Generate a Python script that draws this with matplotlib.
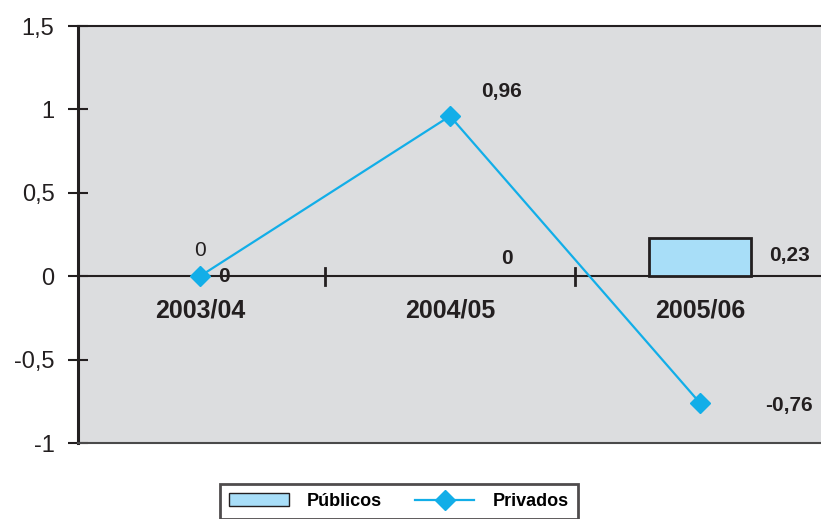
import matplotlib.pyplot as plt
from matplotlib.lines import Line2D
from matplotlib.patches import Patch

plt.rcParams['font.family'] = ['Liberation Sans', 'DejaVu Sans']

# dados
categorias = ['2003/04', '2004/05', '2005/06']
publicos = [0, 0, 0.23]
privados = [0, 0.96, -0.76]
rotulos_publicos = ['0', '0', '0,23']
rotulos_privados = ['0', '0,96', '-0,76']
yticks = [-1, -0.5, 0, 0.5, 1, 1.5]
yticklabels = ['-1', '-0,5', '0', '0,5', '1', '1,5']

# deslocamentos dos rotulos (pixels)
desl_publicos = [(24, 0), (57, 18), (89, -18)]
desl_privados = [(0, 26), (51, 25), (89, -3)]
peso_privados = ['normal', 'bold', 'bold']

cor_linha = '#12aee8'
cor_barra = '#a8def8'
cor_fundo = '#dcdddf'

fig = plt.figure(figsize=(8.21, 5.19), dpi=100)
ax = fig.add_axes([78 / 821, 76 / 519, 743 / 821, 417 / 519])
ax.set_facecolor(cor_fundo)

x = list(range(len(categorias)))
# barras com valor zero nao tem contorno visivel
larg_borda = [2 if v != 0 else 0 for v in publicos]
ax.bar(x, publicos, width=0.41, color=cor_barra, edgecolor='#231f20',
       linewidth=larg_borda, zorder=3)
ax.plot(x, privados, color=cor_linha, linewidth=1.6, marker='D', markersize=10,
        zorder=4)

ax.axhline(0, color='#231f20', linewidth=1.5, zorder=2)
for i in range(len(categorias) - 1):
    ax.plot([i + 0.5, i + 0.5], [-0.05, 0.05], color='#231f20', linewidth=2, zorder=2)

for i, cat in enumerate(categorias):
    ax.text(i, -0.205, cat, ha='center', va='center', fontsize=18, fontweight='bold',
            color='#231f20')

for i, (v, r) in enumerate(zip(publicos, rotulos_publicos)):
    ax.annotate(r, (i, v), xytext=desl_publicos[i], textcoords='offset pixels',
                ha='center', va='center', fontsize=15, fontweight='bold', color='#231f20',
                zorder=5)

for i, (v, r) in enumerate(zip(privados, rotulos_privados)):
    ax.annotate(r, (i, v), xytext=desl_privados[i], textcoords='offset pixels',
                ha='center', va='center', fontsize=15, fontweight=peso_privados[i],
                color='#231f20', zorder=5)

ax.set_xlim(-0.488, 2.484)
ax.set_ylim(-1, 1.5)
ax.set_xticks([])
ax.set_yticks(yticks)
ax.set_yticklabels(yticklabels, fontsize=17, color='#231f20')
ax.tick_params(axis='y', direction='inout', length=14, width=1.5, color='#231f20', pad=10)

ax.spines['right'].set_visible(False)
ax.spines['left'].set_linewidth(2.2)
ax.spines['left'].set_color('#231f20')
ax.spines['top'].set_linewidth(1.5)
ax.spines['top'].set_color('#231f20')
ax.spines['bottom'].set_linewidth(1.5)
ax.spines['bottom'].set_color('#4a4a4a')

handles = [
    Patch(facecolor=cor_barra, edgecolor='#231f20', linewidth=1),
    Line2D([0], [0], color=cor_linha, linewidth=1.6, marker='D', markersize=10),
]
leg = fig.legend(handles, ['Públicos', 'Privados'], loc='upper center',
                 bbox_to_anchor=(0.486, 0.085), ncol=2, frameon=True, fancybox=False,
                 prop={'size': 13, 'weight': 'bold'}, handlelength=3.3, columnspacing=1.8,
                 handletextpad=1.0, borderpad=0.5)
leg.get_frame().set_edgecolor('#231f20')
leg.get_frame().set_linewidth(2)

fig.savefig('out.png', dpi=100)
